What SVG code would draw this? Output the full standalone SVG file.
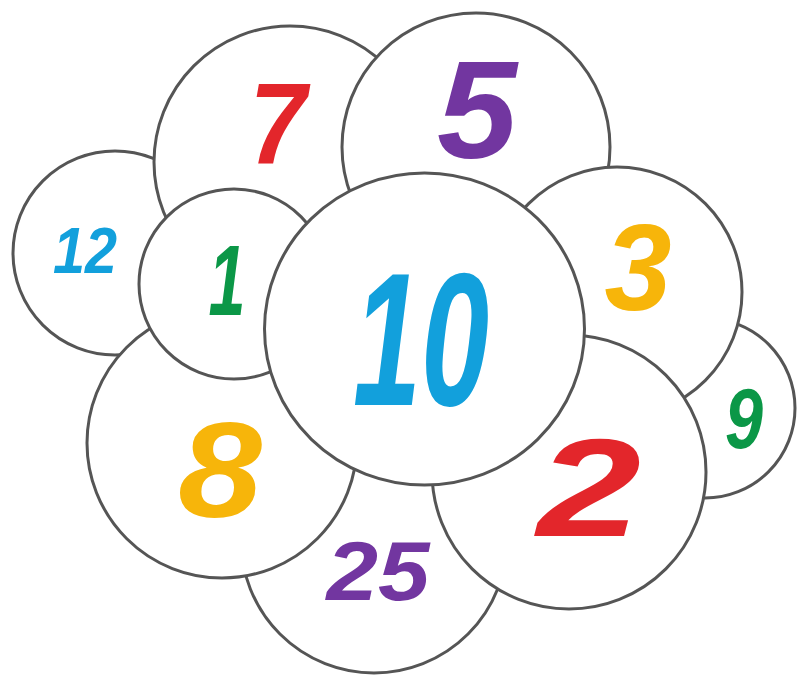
<svg xmlns="http://www.w3.org/2000/svg" width="798" height="677" viewBox="0 0 798 677">
<style>
  .c { fill: #ffffff; stroke: #555555; stroke-width: 3; }
  .t { font-family: "Liberation Sans", "DejaVu Sans", sans-serif; font-weight: bold; font-style: italic; text-anchor: middle; }
  .blue { fill: #12a0dc; }
  .red { fill: #e3262b; }
  .purple { fill: #7236a0; }
  .green { fill: #0b9747; }
  .yellow { fill: #f7b50a; }
</style>
<rect width="798" height="677" fill="#ffffff"/>
<g id="n12"><circle class="c" cx="115" cy="253" r="102"/><text class="t blue" x="85" y="273" font-size="64" textLength="64" lengthAdjust="spacingAndGlyphs">12</text></g>
<g id="n7"><circle class="c" cx="290" cy="162" r="136"/><text class="t red" x="278" y="163" font-size="115" textLength="57" lengthAdjust="spacingAndGlyphs">7</text></g>
<g id="n5"><circle class="c" cx="476" cy="147" r="134"/><text class="t purple" x="477" y="158" font-size="139" textLength="80" lengthAdjust="spacingAndGlyphs">5</text></g>
<g id="n9"><circle class="c" cx="705" cy="408" r="90"/><text class="t green" x="744" y="448" font-size="85" textLength="38" lengthAdjust="spacingAndGlyphs">9</text></g>
<g id="n3"><circle class="c" cx="617" cy="292" r="125"/><text class="t yellow" x="638" y="310" font-size="122" textLength="67" lengthAdjust="spacingAndGlyphs">3</text></g>
<g id="n25"><circle class="c" cx="374" cy="540" r="133"/><text class="t purple" x="378" y="600" font-size="83" textLength="103" lengthAdjust="spacingAndGlyphs">25</text></g>
<g id="n8"><circle class="c" cx="222" cy="443" r="135"/><text class="t yellow" x="220" y="517" font-size="135" textLength="84" lengthAdjust="spacingAndGlyphs">8</text></g>
<g id="n1"><circle class="c" cx="234" cy="284" r="95"/><text class="t green" x="227" y="315" font-size="100" textLength="37" lengthAdjust="spacingAndGlyphs">1</text></g>
<g id="n2"><circle class="c" cx="569" cy="472" r="137"/><text class="t red" x="589" y="536" font-size="140" textLength="104" lengthAdjust="spacingAndGlyphs">2</text></g>
<g id="n10"><ellipse class="c" cx="424.5" cy="329" rx="160" ry="156"/><text class="t blue" x="421" y="405" font-size="190" textLength="136" lengthAdjust="spacingAndGlyphs">10</text></g>
</svg>
